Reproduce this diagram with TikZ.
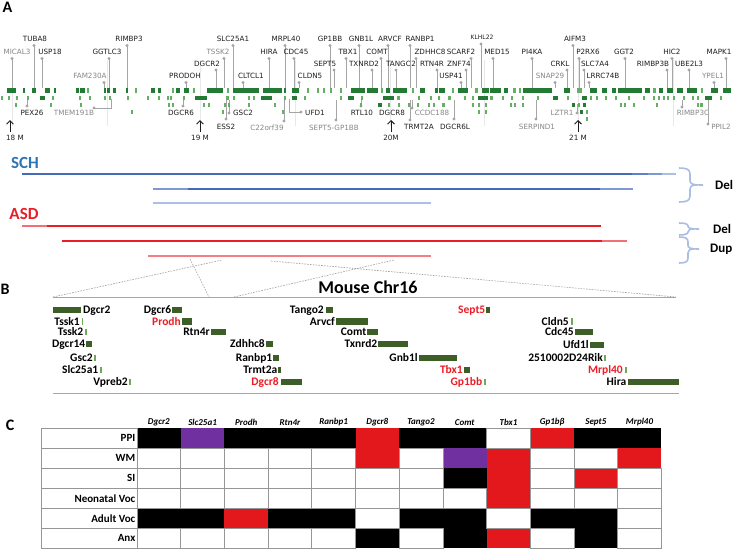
\documentclass[tikz,border=0pt]{standalone}
\usepackage{fontspec}
\setmainfont{Carlito}
\newfontfamily\dvf{DejaVu Sans}
\usetikzlibrary{arrows.meta}
\definecolor{tdark}{RGB}{34,122,52}
\definecolor{tlight}{RGB}{100,175,100}
\definecolor{labk}{RGB}{30,30,30}
\definecolor{labg}{RGB}{135,135,135}
\definecolor{pinc}{RGB}{165,165,165}
\definecolor{gridc}{RGB}{232,232,232}
\definecolor{schblue}{RGB}{46,117,182}
\definecolor{bdark}{RGB}{68,106,184}
\definecolor{bmidA}{RGB}{95,128,198}
\definecolor{bmid}{RGB}{125,153,212}
\definecolor{blight}{RGB}{172,192,230}
\definecolor{asdred}{RGB}{230,30,40}
\definecolor{rfull}{RGB}{232,30,36}
\definecolor{rlight}{RGB}{240,112,115}
\definecolor{pinkl}{RGB}{242,128,128}
\definecolor{bracec}{RGB}{170,190,228}
\definecolor{olive}{RGB}{61,94,38}
\definecolor{lgreen}{RGB}{112,168,92}
\definecolor{gred}{RGB}{236,28,36}
\definecolor{cK}{RGB}{0,0,0}
\definecolor{cR}{RGB}{227,24,28}
\definecolor{cP}{RGB}{112,48,160}
\definecolor{cW}{RGB}{255,255,255}
\definecolor{cellg}{RGB}{150,150,150}
\begin{document}
\begin{tikzpicture}[x=1pt,y=-1pt,
  alab/.style={font=\dvf\fontsize{7.2}{8.6}\selectfont,inner sep=0pt,text=labk},
  pinline/.style={draw=pinc,line width=0.8pt},
  panel/.style={font=\bfseries\fontsize{16}{18}\selectfont,inner sep=0pt},
  glabel/.style={font=\bfseries\fontsize{11.5}{13}\selectfont,inner sep=0pt},
  cnvline/.style={line width=2.2pt},
  bracepath/.style={draw=bracec,line width=1.6pt},
  dashz/.style={draw=gray!75,line width=0.6pt,dash pattern=on 1.6pt off 1.2pt},
  hdr/.style={font=\bfseries\itshape\fontsize{9}{11}\selectfont,inner sep=0pt},
  rowl/.style={font=\bfseries\fontsize{11}{13}\selectfont,inner sep=0pt,anchor=east},
  mk/.style={-{Straight Barb[length=3.5pt,width=7pt]},line width=0.9pt,draw=labk},
  mlab/.style={font=\dvf\fontsize{7.2}{8.6}\selectfont,inner sep=0pt,text=labk}
]
\useasboundingbox (0,0) rectangle (736,552);
\fill[white] (0,0) rectangle (736,552);

% ---------------- Panel A ----------------
\node[panel] (pA) at (7.5,7.5) {A};
\foreach \gx in {12,107,200,295,390,484,578,673}
  \draw[gridc,line width=0.6pt] (\gx,60) -- (\gx,126);

% top pins
\foreach \cx/\ly/\dx/\txt/\col [count=\i] in {
 17/52/12/MICAL3/labg, 35/39/34/TUBA8/labk, 50/52/42/USP18/labk,
 107/52/109/GGTLC3/labk, 129/39/127/RIMBP3/labk, 90/76/104/FAM230A/labg,
 185/76/186/PRODOH/labk, 207/63.5/216/DGCR2/labk, 218/52/224/TSSK2/labg,
 233/39/233/SLC25A1/labk, 251/76/243/CLTCL1/labk, 286/39/285/MRPL40/labk,
 269/52/269/HIRA/labk, 296/52/294/CDC45/labk, 310/76/299/CLDN5/labk,
 330/39/330/GP1BB/labk, 325/63.5/334/SEPT5/labk, 348/52/346/TBX1/labk,
 361/39/359/GNB1L/labk, 364/63.5/372/TXNRD2/labk, 377/52/381/COMT/labk,
 390/39/388/ARVCF/labk, 401/63.5/396/TANGO2/labk, 420/39/410/RANBP1/labk,
 430/52/416/ZDHHC8/labk, 432/63.5/437/RTN4R/labk, 461/52/471/SCARF2/labk,
 459/63.5/466/ZNF74/labk, 451/76/461/USP41/labk, 497/52/493/MED15/labk,
 532/52/532/PI4KA/labk, 575/39/573/AIFM3/labk, 560/63.5/567/CRKL/labk,
 588/52/579/P2RX6/labk, 595/63.5/584/SLC7A4/labk, 550/76/555/SNAP29/labg,
 603/76/589/LRRC74B/labk, 624/52/625/GGT2/labk, 653/63.5/667/RIMBP3B/labk,
 672/52/672/HIC2/labk, 689/63.5/689/UBE2L3/labk, 719/52/726/MAPK1/labk,
 713/76/714/YPEL1/labg} {
  \draw[pinline] (\dx,\ly+6.5) -- (\dx,88);
  \fill[pinc] (\dx,\ly+6.5) circle (1.7);
  \node[alab,text=\col] (tp\i) at (\cx,\ly) {\txt};
}
\draw[pinline] (481,44) -- (481,88);
\fill[pinc] (481,44) circle (1.7);
\node[alab,font=\dvf\fontsize{6}{7}\selectfont] (tpK) at (482,37) {KLHL22};

% bottom pins
\foreach \cx/\ly/\dx/\dy/\ex/\ey/\txt/\col [count=\i] in {
 32/113/27/106/27/99/PEX26/labk, 74/113/94/108/111/99/TMEM191B/labg,
 181/113/183/106/183/100/DGCR6/labk, 226/127/226/119/226/100/ESS2/labk,
 243/113/229/113/229/100/GSC2/labk, 267/128/284/121/284/100/C22orf39/labg,
 315/113/301/112/289/99/UFD1/labk, 334/128/336/120/336/100/SEPT5-GP1BB/labg,
 362/113/361/106/361/100/RTL10/labk, 432/113/412/108/412/100/CCDC188/labg,
 419/127/410/120/410/100/TRMT2A/labk, 455/127/454/119/454/100/DGCR6L/labk,
 562/113/577/113/577/104/LZTR1/labg, 537/127/536/119/536/100/SERPIND1/labg,
 693/113/682/107/682/100/RIMBP3C/labg, 721/127/708/124/708/100/PPIL2/labg} {
  \draw[pinline] (\dx,\dy) -| (\ex,\ey);
  \fill[pinc] (\dx,\dy) circle (1.7);
  \node[alab,text=\col] (bp\i) at (\cx,\ly) {\txt};
}
\node[alab] (bpD) at (392,113) {DGCR8};

% track bars
\foreach \a/\b in {7/16,23/25,32/36,45/50,54/56,76/79,80/85,104/106,107/110,113/116,126/128,151/155,158/161,176/180,184/189,207/223,233/259,263/282,284/286,292/299,351/365,367/378,386/390,393/407,420/425,435/438,439/445,458/468,482/489,490/501,504/508,523/552,564/570,590/597,602/607,612/616,618/642,645/650,659/663,667/673,677/683,687/697,711/718,723/731}
  \fill[tdark] (\a,88) rectangle (\b,93);
\foreach \a/\b in {87/89,135/136.5,172/173.5,193/194.5,227/228.5,307/308.5,317/318.5,323/325,330/332,340/342,381/382.5,412/413.5,452/454,475/478,513/516,519/521,577/582,653/656,701/703}
  \fill[tlight] (\a,88) rectangle (\b,93);
\foreach \a/\b in {40/45,195/207,261/272,292/297,348/354,383/394,478/488,553/558,582/587,705/712}
  \fill[tdark] (\a,95.5) rectangle (\b,100);
\foreach \a/\b in {1/2.5,8/10,16/18,27/29,52/53.5,79/80.5,89/91,104/105.5,109/111,127/128.5,147/148.5,158/159.5,167/168.5,170/171.5,183/184.5,226/229,233/235,248/250,253/254.5,284/286,304/306,340/342,361/362.5,397/400,418/419.5,430/432,438/440,448/451,464/466,472/473.5,490/493,502/503.5,511/513,522/523.5,537/539,567/568.5,590/592,596/598,605/607,615/617,628/630,643/645,653/655,658/660,663/665,667/668.5,673/674.5,683/684.5,692/693.5,697/698.5,720/722}
  \fill[tlight] (\a,95.5) rectangle (\b,100);
\foreach \a/\b in {378/382,572/575,583/586}
  \fill[tdark] (\a,103) rectangle (\b,107);
\foreach \a/\b in {15/16.5,50/51.5,80/81.5,168/170,172/173.5,203/205,208/210,224/225.5,228/229.5,248/249.5,274/275.5,360/362,388/390,398/399.5,408/410,417/418.5,428/429.5,433/435,442/445,472/473.5,478/479.5,485/486.5,510/511.5,514/515.5,522/523.5,578/580,620/621.5,624/626,633/634.5,656/657.5,697/698.5,700/703}
  \fill[tlight] (\a,103) rectangle (\b,107);
\fill[tdark] (580,110) rectangle (583,114);
\foreach \a/\b in {131/132.5,222/224,282/283.5,478/480,485/486.5,586/587.5}
  \fill[tlight] (\a,110) rectangle (\b,114);
\fill[tlight] (586,117) rectangle (587.5,121);

% Mb markers
\foreach \mx/\lx/\t [count=\i] in {10/15/18 M,200/200/19 M,391/391/20M,578/578/21 M} {
  \coordinate (mt\i) at (\mx,132);
  \coordinate (mh\i) at (\mx,120);
  \draw[mk] (mt\i) -- (mh\i);
  \node[mlab] (ml\i) at (\lx,138) {\t};
}

% CNV lines
\node[font=\bfseries\fontsize{17}{19}\selectfont,text=schblue,inner sep=0pt] (sch) at (25,163) {SCH};
\node[font=\bfseries\fontsize{17}{19}\selectfont,text=asdred,inner sep=0pt] (asd) at (24,214) {ASD};
\draw[cnvline,bdark] (22,174) -- (632,174);
\draw[cnvline,bmidA] (632,174) -- (648,174);
\draw[cnvline,bmid] (648,174) -- (662,174);
\draw[cnvline,blight] (662,174) -- (676,174);
\draw[cnvline,bmid] (153,188.7) -- (188,188.7);
\draw[cnvline,bdark] (188,188.7) -- (600,188.7);
\draw[cnvline,bmid] (600,188.7) -- (633,188.7);
\draw[cnvline,blight] (153,203) -- (431,203);
\draw[cnvline,rlight] (22,226) -- (47,226);
\draw[cnvline,rfull] (47,226) -- (601,226);
\draw[cnvline,rfull] (62,241) -- (602,241);
\draw[cnvline,rlight] (602,241) -- (627,241);
\draw[cnvline,pinkl] (148,256) -- (431,256);

% braces
\draw[bracepath] (679,168) .. controls (686,168) and (690,169) .. (690,174) -- (690,180) .. controls (690,184) and (692,185) .. (703,185);
\draw[bracepath] (679,202) .. controls (686,202) and (690,201) .. (690,196) -- (690,190) .. controls (690,186) and (692,185) .. (697,185);
\draw[bracepath] (679,223) .. controls (685,223) and (688,224) .. (688,226) .. controls (688,228) and (690,229) .. (699,229);
\draw[bracepath] (679,235) .. controls (685,235) and (688,234) .. (688,232) .. controls (688,230) and (690,229) .. (694,229);
\draw[bracepath] (679,237) .. controls (685,237) and (688,238) .. (688,242) -- (688,245) .. controls (688,248) and (690,249) .. (699,249);
\draw[bracepath] (679,263) .. controls (685,263) and (688,262) .. (688,258) -- (688,253) .. controls (688,250) and (690,249) .. (694,249);
\node[font=\bfseries\fontsize{13}{15}\selectfont,inner sep=0pt,anchor=west] (del1) at (715,185) {Del};
\node[font=\bfseries\fontsize{13}{15}\selectfont,inner sep=0pt,anchor=west] (del2) at (713,229) {Del};
\node[font=\bfseries\fontsize{13}{15}\selectfont,inner sep=0pt,anchor=west] (dup) at (710,249) {Dup};

% ---------------- Panel B ----------------
\node[panel] (pB) at (5,289) {B};
\node[font=\bfseries\fontsize{18}{20}\selectfont,inner sep=0pt] (chr) at (368,287) {Mouse Chr16};
\coordinate (c1) at (53,297);
\coordinate (c2) at (676,297);
\draw[gray!70,line width=0.9pt] (c1) -- (c2);
\draw[dashz] (c1) -- (222,260);
\draw[dashz] (190,259) -- (209,297);
\draw[dashz] (234,297) -- (394,260);
\draw[dashz] (271,261) -- (c2);
\draw[gray!70,line width=0.9pt] (53,393) -- (679,393);

\fill[olive] (53,306.8) rectangle (81,313.2);
\node[glabel,anchor=base west] (mg0) at (83,313.6) {Dgcr2};
\foreach \txt/\ex/\xa/\xb/\yy/\tc/\bc [count=\i] in {
 Tssk1/80/81.5/83/321.5/black/lgreen, Tssk2/83.5/85/86.5/332/black/lgreen,
 Dgcr14/85.5/86/92/344/black/olive, Gsc2/93/94/95.5/358/black/lgreen,
 Slc25a1/98.5/100/101.5/370/black/lgreen, Vpreb2/128/129/130.5/382/black/lgreen,
 Dgcr6/171.5/172/182/310/black/olive, Prodh/181/182/192/321.5/gred/olive,
 Rtn4r/210/211/226/332/black/olive, Zdhhc8/265/266/273/344/black/olive,
 Ranbp1/272.5/273/279/358/black/olive, Trmt2a/277.5/278/281/370/black/olive,
 Dgcr8/279/281/302/382/gred/olive, Tango2/324/326/333/310/black/olive,
 Arvcf/335/336/368/321.5/black/olive, Comt/366.5/367/378/332/black/olive,
 Txnrd2/377.5/378/408/344/black/olive, Gnb1l/418/419/457/358/black/olive,
 Tbx1/463/464/470/370/gred/olive, Gp1bb/482.5/484/485.5/382/gred/lgreen,
 Sept5/485.5/486/490/310/gred/olive, Cldn5/569/571/572.5/321.5/black/lgreen,
 Cdc45/574/575/593/332/black/olive, Ufd1l/589/590/604/345/black/olive,
 2510002D24Rik/603/604/605.5/358/black/lgreen, Mrpl40/623/625/626.5/370/gred/lgreen,
 Hira/626.5/628/679/382/black/olive} {
  \path[fill=\bc] (\xa,\yy-3.2) rectangle (\xb,\yy+3.2);
  \node[glabel,text=\tc,anchor=base east] (mg\i) at (\ex,\yy+3.6) {\txt};
}

% ---------------- Panel C ----------------
\node[panel] (pC) at (10,425) {C};
\foreach \h [count=\kk from 0] in {Dgcr2,Slc25a1,Prodh,Rtn4r,Ranbp1,Dgcr8,Tango2,Comt,Tbx1,Gp1bβ,Sept5,Mrpl40}
  \node[hdr] (hd\kk) at (158.85+43.7*\kk,422.5) {\h};
\def\tabrows{PPI/{K,P,K,K,K,R,K,K,W,R,K,K}, WM/{W,W,W,W,W,R,W,P,R,W,W,R}, SI/{W,W,W,W,W,W,W,K,R,W,R,W}, Neonatal Voc/{W,W,W,W,W,W,W,W,R,W,W,W}, Adult Voc/{K,K,R,K,K,W,K,K,W,K,K,W}, Anx/{W,W,W,W,W,K,W,K,R,W,K,W}}
\foreach \rl/\cells [count=\ri from 0] in \tabrows {
  \foreach \cc [count=\kk from 0] in \cells
    \path[fill=c\cc] (137+43.7*\kk,428.3+20*\ri) rectangle (180.7+43.7*\kk,448.3+20*\ri);
}
\foreach \rl/\cells [count=\ri from 0] in \tabrows {
  \draw[cellg,fill=white,line width=0.8pt] (41,428.3+20*\ri) rectangle (137,448.3+20*\ri);
  \node[rowl] (rl\ri) at (135.5,438.3+20*\ri) {\rl};
  \foreach \cc [count=\kk from 0] in \cells {
    \if\cc W
      \draw[cellg,line width=0.8pt] (137+43.7*\kk,428.3+20*\ri) rectangle (180.7+43.7*\kk,448.3+20*\ri);
    \fi
  }
}
\end{tikzpicture}
\end{document}
